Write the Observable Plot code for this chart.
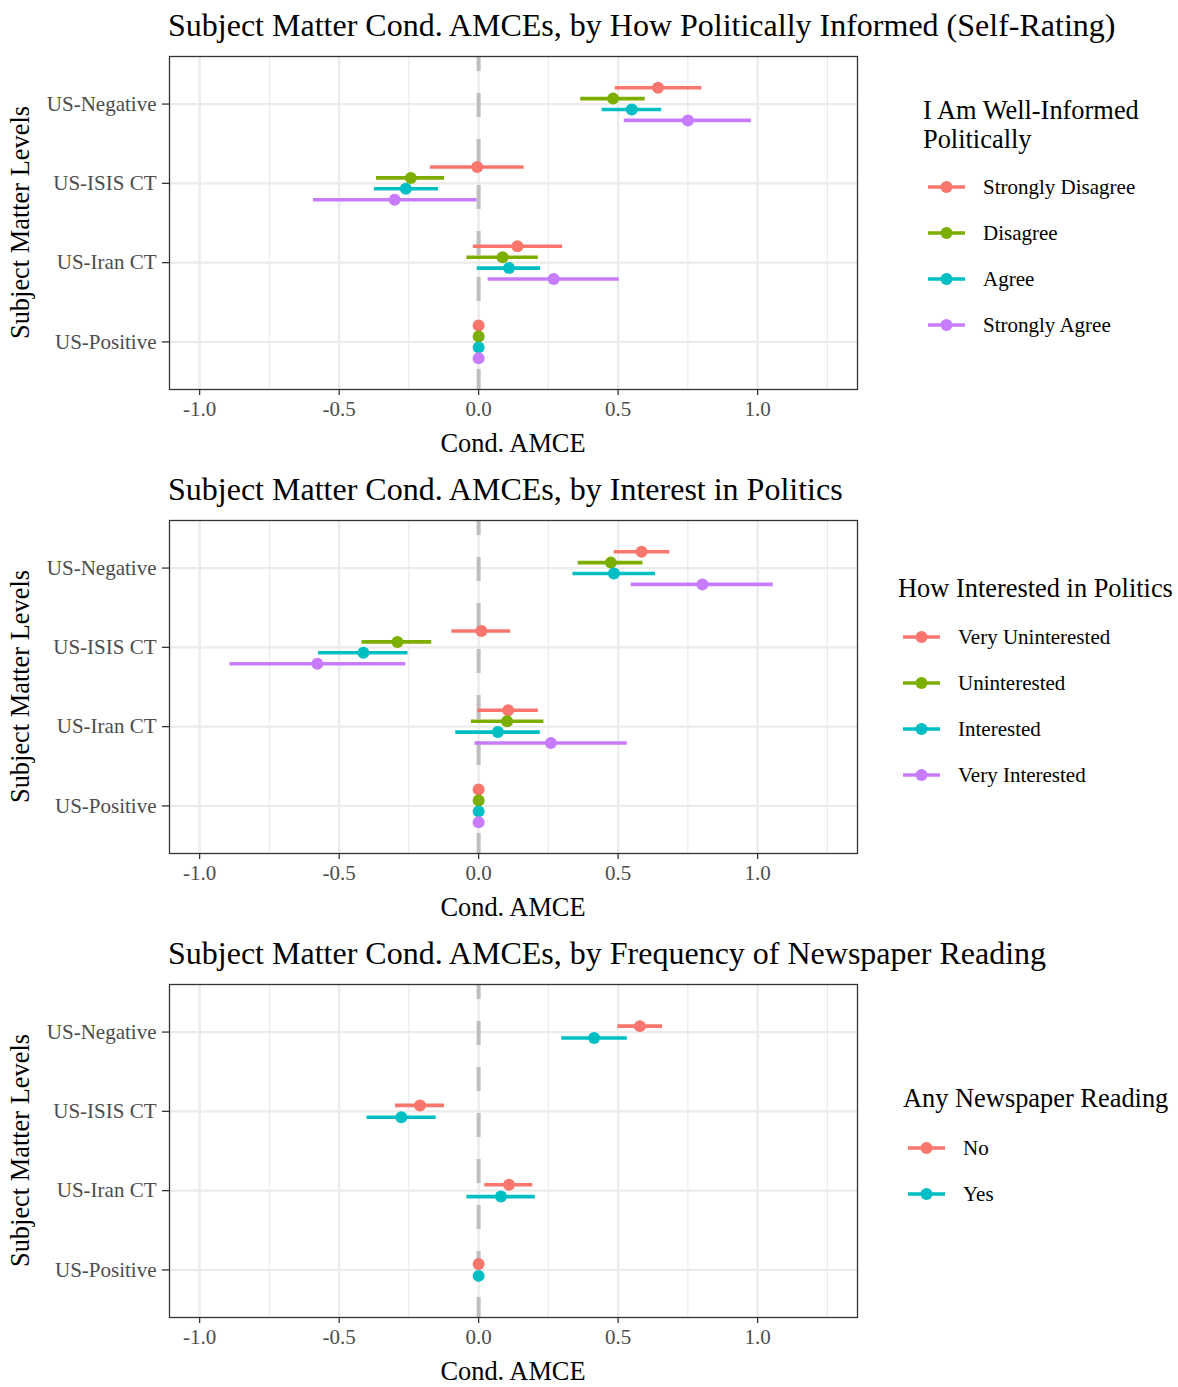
<!DOCTYPE html>
<html>
<head>
<meta charset="utf-8">
<script src="https://cdn.jsdelivr.net/npm/d3@7"></script>
<script src="https://cdn.jsdelivr.net/npm/@observablehq/plot@0.6"></script>
<style>
  html, body { margin: 0; padding: 0; background: #fff; }
  #root { position: relative; width: 1178px; height: 1387px; overflow: hidden; background: #fff; }
  #root > svg { position: absolute; left: 0; }
</style>
</head>
<body>
<div id="root"></div>
<script>
// ---------- data ----------
const categories = ["US-Negative", "US-ISIS CT", "US-Iran CT", "US-Positive"];
const xTicks = [-1, -0.5, 0, 0.5, 1];
const xMinorTicks = [-0.75, -0.25, 0.25, 0.75, 1.25];

const hue4 = ["#F8766D", "#7CAE00", "#00BFC4", "#C77CFF"];
const hue2 = ["#F8766D", "#00BFC4"];

// Panel 1: How politically informed (self-rating)
const informedTitle = "Subject Matter Cond. AMCEs, by How Politically Informed (Self-Rating)";
const informedLegendTitle = ["I Am Well-Informed", "Politically"];
const informedGroups = ["Strongly Disagree", "Disagree", "Agree", "Strongly Agree"];
const informedEst = [
  [0.643, -0.005, 0.139, 0],
  [0.482, -0.243, 0.086, 0],
  [0.549, -0.261, 0.109, 0],
  [0.750, -0.301, 0.269, 0]
];
const informedLo = [
  [0.490, -0.173, -0.019, null],
  [0.366, -0.366, -0.042, null],
  [0.443, -0.374, -0.005, null],
  [0.522, -0.592, 0.034, null]
];
const informedHi = [
  [0.800, 0.163, 0.301, null],
  [0.597, -0.122, 0.214, null],
  [0.656, -0.144, 0.222, null],
  [0.978, -0.006, 0.504, null]
];

// Panel 2: Interest in politics
const interestTitle = "Subject Matter Cond. AMCEs, by Interest in Politics";
const interestLegendTitle = ["How Interested in Politics"];
const interestGroups = ["Very Uninterested", "Uninterested", "Interested", "Very Interested"];
const interestEst = [
  [0.584, 0.010, 0.106, 0],
  [0.474, -0.291, 0.102, 0],
  [0.485, -0.413, 0.069, 0],
  [0.802, -0.578, 0.259, 0]
];
const interestLo = [
  [0.486, -0.096, -0.003, null],
  [0.357, -0.418, -0.026, null],
  [0.338, -0.574, -0.082, null],
  [0.547, -0.891, -0.013, null]
];
const interestHi = [
  [0.685, 0.115, 0.214, null],
  [0.589, -0.168, 0.234, null],
  [0.634, -0.253, 0.221, null],
  [1.056, -0.261, 0.533, null]
];

// Panel 3: Newspaper reading
const paperTitle = "Subject Matter Cond. AMCEs, by Frequency of Newspaper Reading";
const paperLegendTitle = ["Any Newspaper Reading"];
const paperGroups = ["No", "Yes"];
const paperEst = [
  [0.578, -0.210, 0.109, 0],
  [0.414, -0.277, 0.080, 0]
];
const paperLo = [
  [0.499, -0.298, 0.022, null],
  [0.298, -0.400, -0.042, null]
];
const paperHi = [
  [0.659, -0.122, 0.194, null],
  [0.533, -0.152, 0.203, null]
];

// ---------- drawing ----------
const FONT = "'Liberation Serif', 'Times New Roman', serif";
const root = document.getElementById("root");

function buildRows(groups, est, lo, hi, step) {
  const n = groups.length;
  const rows = [];
  groups.forEach((g, gi) => {
    categories.forEach((c, ci) => {
      rows.push({
        group: g, cat: c,
        est: est[gi][ci], lo: lo[gi][ci], hi: hi[gi][ci],
        pos: ci + (gi - (n - 1) / 2) * step
      });
    });
  });
  return rows;
}

function panel(top, groups, colors, est, lo, hi, step) {
  const rows = buildRows(groups, est, lo, hi, step);
  const chart = Plot.plot({
    width: 870,
    height: 464,
    marginLeft: 169,
    marginRight: 13,
    marginTop: 56,
    marginBottom: 75,
    style: { fontFamily: FONT, background: "transparent", overflow: "visible" },
    x: { domain: [-1.108, 1.358], axis: null },
    y: { domain: [3.6, -0.6], axis: null },
    color: { domain: groups, range: colors },
    marks: [
      Plot.ruleX(xMinorTicks, { stroke: "#EBEBEB", strokeWidth: 1.2 }),
      Plot.ruleX(xTicks, { stroke: "#EBEBEB", strokeWidth: 2.3 }),
      Plot.ruleY(d3.range(categories.length), { stroke: "#EBEBEB", strokeWidth: 2.3 }),
      Plot.ruleX([0], { stroke: "#BEBEBE", strokeWidth: 4, strokeDasharray: "24,22", strokeDashoffset: 9 }),
      Plot.ruleY(rows.filter(d => d.lo != null), { y: "pos", x1: "lo", x2: "hi", stroke: "group", strokeWidth: 3.6 }),
      Plot.dot(rows, { x: "est", y: "pos", fill: "group", r: 6 }),
      Plot.frame({ stroke: "#333333", strokeWidth: 1.3 }),
      Plot.axisX(xTicks, {
        tickFormat: d => d.toFixed(1), tickSize: 6, tickPadding: 6,
        stroke: "#333333", strokeWidth: 1.3, fill: "#4D4D4D", fontSize: 21, label: null
      }),
      Plot.axisY(d3.range(categories.length), {
        tickFormat: i => categories[i], tickSize: 7, tickPadding: 6,
        stroke: "#333333", strokeWidth: 1.3, fill: "#4D4D4D", fontSize: 21, label: null
      })
    ]
  });
  chart.style.top = top + "px";
  root.appendChild(chart);
}

panel(0, informedGroups, hue4, informedEst, informedLo, informedHi, 0.1375);
panel(464, interestGroups, hue4, interestEst, interestLo, interestHi, 0.1375);
panel(928, paperGroups, hue2, paperEst, paperLo, paperHi, 0.15);

// ---------- overlay texts: titles, axis titles, legends ----------
const overlay = d3.select(root).append("svg")
  .attr("width", 1178).attr("height", 1387)
  .style("top", "0px")
  .style("pointer-events", "none")
  .style("font-family", FONT);

function annotate(top, title, legendTitle, groups, colors, lg) {
  const g = overlay.append("g").attr("transform", `translate(0,${top})`);
  g.append("text").attr("x", 168).attr("y", 36).attr("font-size", 32).attr("fill", "#000").text(title);
  g.append("text").attr("x", 513).attr("y", 452).attr("font-size", 26.4).attr("text-anchor", "middle").attr("fill", "#000").text("Cond. AMCE");
  g.append("text").attr("transform", "translate(29,222.5) rotate(-90)").attr("font-size", 26.4)
    .attr("text-anchor", "middle").attr("fill", "#000").text("Subject Matter Levels");
  legendTitle.forEach((t, i) => {
    g.append("text").attr("x", lg.x).attr("y", lg.titleY + i * 29).attr("font-size", 26.4).attr("fill", "#000").text(t);
  });
  groups.forEach((name, i) => {
    const y = lg.itemY + i * 46;
    g.append("line").attr("x1", lg.keyX).attr("x2", lg.keyX + 37).attr("y1", y).attr("y2", y)
      .attr("stroke", colors[i]).attr("stroke-width", 3.6);
    g.append("circle").attr("cx", lg.keyX + 18.5).attr("cy", y).attr("r", 6).attr("fill", colors[i]);
    g.append("text").attr("x", lg.keyX + 55).attr("y", y + 7).attr("font-size", 21).attr("fill", "#000").text(name);
  });
}

annotate(0, informedTitle, informedLegendTitle, informedGroups, hue4,
  { x: 923, titleY: 119, keyX: 928, itemY: 187 });
annotate(464, interestTitle, interestLegendTitle, interestGroups, hue4,
  { x: 898, titleY: 133, keyX: 903, itemY: 173 });
annotate(928, paperTitle, paperLegendTitle, paperGroups, hue2,
  { x: 903, titleY: 179, keyX: 908, itemY: 220 });
</script>
</body>
</html>
